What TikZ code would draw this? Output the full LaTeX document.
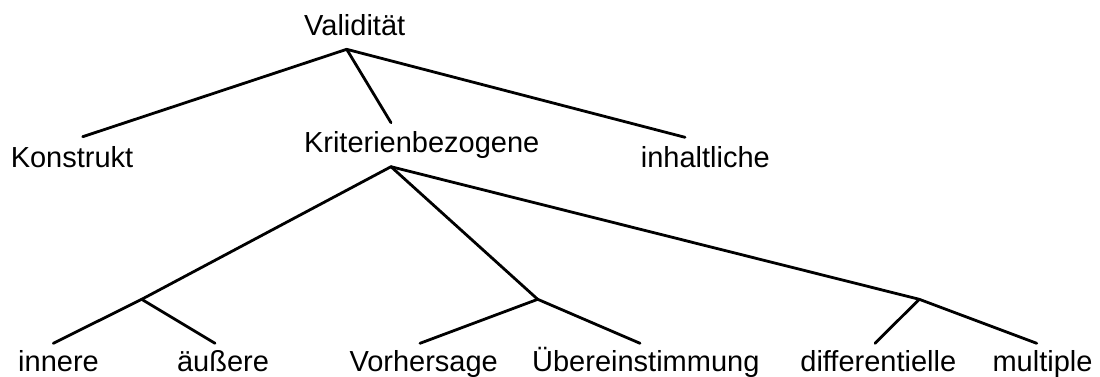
\documentclass[tikz,border=0pt]{standalone}
\usepackage{fontspec}
\setmainfont{Liberation Sans}
\begin{document}
\begin{tikzpicture}[x=1pt,y=-1pt,
  lbl/.style={anchor=base,inner sep=0pt,font=\fontsize{29}{34}\selectfont},
  edge/.style={line width=2.8pt,line cap=round}]
\useasboundingbox (0,0) rectangle (1100,376);
% labels
\node[lbl] (val) at (354.7,35.7) {Validität};
\node[lbl] (kon) at (72,167.7) {Konstrukt};
\node[lbl] (kri) at (421.7,152.7) {Kriterienbezogene};
\node[lbl] (inh) at (705.3,167.7) {inhaltliche};
\node[lbl] (inn) at (58.5,371.7) {innere};
\node[lbl] (aus) at (223,371.7) {äußere};
\node[lbl] (vor) at (423.7,371.7) {Vorhersage};
\node[lbl] (ueb) at (645.8,371.7) {Übereinstimmung};
\node[lbl] (dif) at (878.3,371.7) {differentielle};
\node[lbl] (mul) at (1042.5,371.7) {multiple};
% junction and end points
\coordinate (jv) at (346.7,49.3);
\coordinate (ekon) at (82.7,136.7);
\coordinate (ekri) at (391,122.7);
\coordinate (einh) at (685,137.3);
\coordinate (jk) at (391,166.7);
\coordinate (j1) at (141.7,299.3);
\coordinate (j2) at (537.7,299.3);
\coordinate (j3) at (919.3,299.3);
\coordinate (einn) at (53.3,343.3);
\coordinate (eaus) at (215,343.3);
\coordinate (evor) at (420,343.3);
\coordinate (eueb) at (640,343.3);
\coordinate (edif) at (875,343.3);
\coordinate (emul) at (1036.7,343.3);
% connectors
\draw[edge] (jv) -- (ekon);
\draw[edge] (jv) -- (ekri);
\draw[edge] (jv) -- (einh);
\draw[edge] (jk) -- (j1);
\draw[edge] (jk) -- (j2);
\draw[edge] (jk) -- (j3);
\draw[edge] (j1) -- (einn);
\draw[edge] (j1) -- (eaus);
\draw[edge] (j2) -- (evor);
\draw[edge] (j2) -- (eueb);
\draw[edge] (j3) -- (edif);
\draw[edge] (j3) -- (emul);
\end{tikzpicture}
\end{document}
